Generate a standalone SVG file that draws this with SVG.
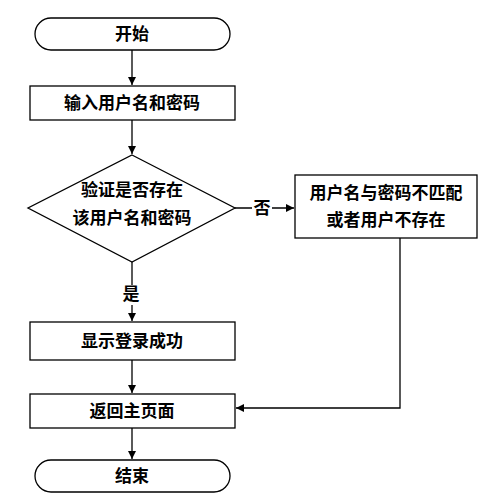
<svg xmlns="http://www.w3.org/2000/svg" width="499" height="503" viewBox="0 0 499 503">
<style>
.s{fill:#fff;stroke:#000;stroke-width:1.3}
.t{font-family:"Liberation Serif","Noto Sans CJK SC",serif;font-size:17px;font-weight:bold;text-anchor:middle;dominant-baseline:central;fill:#000}
.c{stroke:#000;stroke-width:1.3;fill:none}
</style>
<defs><marker id="a" viewBox="0 0 10 10" refX="10" refY="5" markerWidth="8" markerHeight="8" orient="auto" markerUnits="userSpaceOnUse"><path d="M0,0L10,5L0,10z" fill="#000"/></marker></defs>
<rect width="499" height="503" fill="#fff"/>
<g id="connectors">
<path class="c" d="M132,50V85" marker-end="url(#a)"/>
<path class="c" d="M132,120V154" marker-end="url(#a)"/>
<path class="c" d="M235,208H294" marker-end="url(#a)"/>
<path class="c" d="M132,262V321" marker-end="url(#a)"/>
<path class="c" d="M132,360V393" marker-end="url(#a)"/>
<path class="c" d="M400,238V408H236" marker-end="url(#a)"/>
<path class="c" d="M132,428V459" marker-end="url(#a)"/>
<rect x="252" y="199" width="20" height="18" fill="#fff"/>
<text class="t" x="262" y="208">否</text>
<rect x="120" y="285" width="22" height="20" fill="#fff"/>
<text class="t" x="131" y="294">是</text>
</g>
<g id="start"><rect class="s" x="35" y="18" width="195" height="32" rx="16"/><text class="t" x="132" y="34">开始</text></g>
<g id="input"><rect class="s" x="30" y="86" width="205" height="34"/><text class="t" x="132" y="103">输入用户名和密码</text></g>
<g id="check"><path class="s" d="M132,155L235,208L132,262L28,208Z"/><text class="t" x="132" y="190">验证是否存在</text><text class="t" x="132" y="218">该用户名和密码</text></g>
<g id="fail"><rect class="s" x="295" y="175" width="182" height="63"/><text class="t" x="386" y="193">用户名与密码不匹配</text><text class="t" x="386" y="220">或者用户不存在</text></g>
<g id="ok"><rect class="s" x="30" y="322" width="205" height="38"/><text class="t" x="132" y="341">显示登录成功</text></g>
<g id="home"><rect class="s" x="30" y="394" width="205" height="34"/><text class="t" x="132" y="411">返回主页面</text></g>
<g id="end"><rect class="s" x="35" y="460" width="195" height="32" rx="16"/><text class="t" x="132" y="476">结束</text></g>
</svg>
